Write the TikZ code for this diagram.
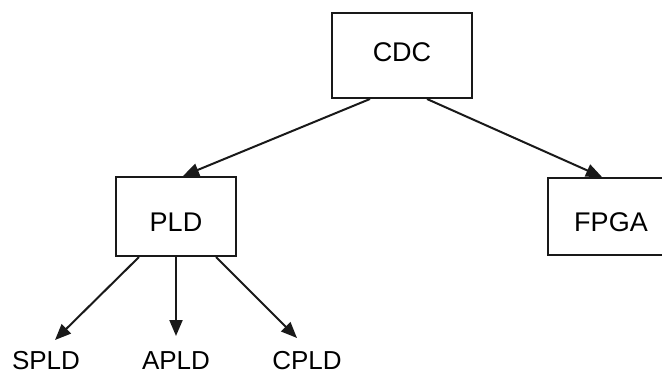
\documentclass[tikz,border=0pt]{standalone}
\usepackage{fontspec}
\setmainfont{Liberation Sans}
\usetikzlibrary{arrows.meta}
\begin{document}
\begin{tikzpicture}[x=1pt,y=1pt,
  box/.style={draw=black!90, line width=2pt, fill=white, inner sep=0pt,
              font=\fontsize{27}{32}\selectfont},
  leaf/.style={inner sep=0pt, anchor=base, font=\fontsize{26}{31}\selectfont},
  link/.style={line width=2pt, draw=black!90,
               -{Triangle[length=16pt,width=13pt]}}]
  \useasboundingbox (0,0) rectangle (662,376);
  \clip (0,0) rectangle (662,376);

  % boxes
  \node[box, minimum width=140pt, minimum height=85pt, text height=19pt, text depth=8pt]
    (cdc)  at (402,320.5) {CDC};
  \node[box, minimum width=120pt, minimum height=79pt, text height=29pt, text depth=0pt]
    (pld)  at (176,159.5) {PLD};
  \node[box, minimum width=126pt, minimum height=77pt, text height=29pt, text depth=0pt]
    (fpga) at (611,159.5) {FPGA};

  % leaf labels and the arrow ends above them
  \node[leaf] (spld) at (46,6.5)  {SPLD};
  \node[leaf] (apld) at (176,6.5) {APLD};
  \node[leaf] (cpld) at (307,6.5) {CPLD};
  \coordinate (spldtip) at (55,36);
  \coordinate (apldtip) at (176,40);
  \coordinate (cpldtip) at (297,38);

  % top level connectors
  \draw[link] ([xshift=-32pt]cdc.south) -- ([xshift=7pt]pld.north);
  \draw[link] ([xshift=25pt]cdc.south)  -- ([xshift=-9pt]fpga.north);

  % PLD children
  \draw[link] ([xshift=-37pt]pld.south) -- (spldtip);
  \draw[link] (pld.south) -- (apldtip);
  \draw[link] ([xshift=40pt]pld.south)  -- (cpldtip);
\end{tikzpicture}
\end{document}
